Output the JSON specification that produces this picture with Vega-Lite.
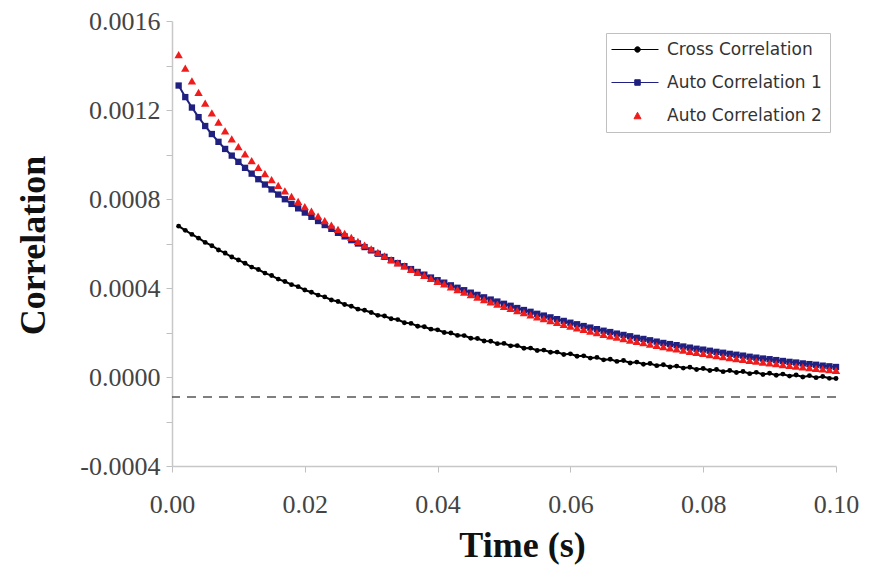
{
"$schema": "https://vega.github.io/schema/vega-lite/v6.json",
"width": 664, "height": 445, "autosize": "none",
"padding": {"left": 172, "top": 21, "right": 37, "bottom": 100},
"background": "white",
"config": {"view": {"stroke": null}},
"datasets": {
"ref": [{"baseline": -0.00009}],
"series": [
{"t":0.001,"c":0.000678,"a1":0.001310,"a2":0.001449},
{"t":0.002,"c":0.000659,"a1":0.001258,"a2":0.001388},
{"t":0.003,"c":0.000641,"a1":0.001211,"a2":0.001331},
{"t":0.004,"c":0.000624,"a1":0.001168,"a2":0.001279},
{"t":0.005,"c":0.000605,"a1":0.001128,"a2":0.001231},
{"t":0.006,"c":0.000590,"a1":0.001092,"a2":0.001187},
{"t":0.007,"c":0.000571,"a1":0.001057,"a2":0.001145},
{"t":0.008,"c":0.000557,"a1":0.001025,"a2":0.001106},
{"t":0.009,"c":0.000539,"a1":0.000995,"a2":0.001070},
{"t":0.010,"c":0.000526,"a1":0.000967,"a2":0.001035},
{"t":0.011,"c":0.000511,"a1":0.000940,"a2":0.001003},
{"t":0.012,"c":0.000494,"a1":0.000914,"a2":0.000972},
{"t":0.013,"c":0.000483,"a1":0.000889,"a2":0.000942},
{"t":0.014,"c":0.000467,"a1":0.000865,"a2":0.000914},
{"t":0.015,"c":0.000456,"a1":0.000843,"a2":0.000887},
{"t":0.016,"c":0.000440,"a1":0.000820,"a2":0.000861},
{"t":0.017,"c":0.000429,"a1":0.000799,"a2":0.000836},
{"t":0.018,"c":0.000415,"a1":0.000778,"a2":0.000812},
{"t":0.019,"c":0.000406,"a1":0.000758,"a2":0.000789},
{"t":0.020,"c":0.000391,"a1":0.000739,"a2":0.000766},
{"t":0.021,"c":0.000381,"a1":0.000720,"a2":0.000745},
{"t":0.022,"c":0.000368,"a1":0.000701,"a2":0.000723},
{"t":0.023,"c":0.000360,"a1":0.000683,"a2":0.000703},
{"t":0.024,"c":0.000346,"a1":0.000666,"a2":0.000683},
{"t":0.025,"c":0.000339,"a1":0.000648,"a2":0.000664},
{"t":0.026,"c":0.000326,"a1":0.000632,"a2":0.000645},
{"t":0.027,"c":0.000318,"a1":0.000615,"a2":0.000627},
{"t":0.028,"c":0.000305,"a1":0.000600,"a2":0.000610},
{"t":0.029,"c":0.000300,"a1":0.000584,"a2":0.000593},
{"t":0.030,"c":0.000290,"a1":0.000569,"a2":0.000576},
{"t":0.031,"c":0.000277,"a1":0.000554,"a2":0.000560},
{"t":0.032,"c":0.000274,"a1":0.000540,"a2":0.000544},
{"t":0.033,"c":0.000262,"a1":0.000525,"a2":0.000528},
{"t":0.034,"c":0.000258,"a1":0.000512,"a2":0.000513},
{"t":0.035,"c":0.000244,"a1":0.000498,"a2":0.000499},
{"t":0.036,"c":0.000241,"a1":0.000485,"a2":0.000484},
{"t":0.037,"c":0.000228,"a1":0.000472,"a2":0.000470},
{"t":0.038,"c":0.000226,"a1":0.000460,"a2":0.000457},
{"t":0.039,"c":0.000215,"a1":0.000447,"a2":0.000443},
{"t":0.040,"c":0.000212,"a1":0.000435,"a2":0.000430},
{"t":0.041,"c":0.000200,"a1":0.000424,"a2":0.000418},
{"t":0.042,"c":0.000198,"a1":0.000412,"a2":0.000405},
{"t":0.043,"c":0.000187,"a1":0.000401,"a2":0.000393},
{"t":0.044,"c":0.000186,"a1":0.000390,"a2":0.000382},
{"t":0.045,"c":0.000174,"a1":0.000379,"a2":0.000370},
{"t":0.046,"c":0.000173,"a1":0.000369,"a2":0.000359},
{"t":0.047,"c":0.000162,"a1":0.000358,"a2":0.000348},
{"t":0.048,"c":0.000161,"a1":0.000348,"a2":0.000338},
{"t":0.049,"c":0.000150,"a1":0.000339,"a2":0.000327},
{"t":0.050,"c":0.000151,"a1":0.000329,"a2":0.000317},
{"t":0.051,"c":0.000140,"a1":0.000320,"a2":0.000308},
{"t":0.052,"c":0.000141,"a1":0.000310,"a2":0.000298},
{"t":0.053,"c":0.000129,"a1":0.000301,"a2":0.000289},
{"t":0.054,"c":0.000130,"a1":0.000293,"a2":0.000279},
{"t":0.055,"c":0.000119,"a1":0.000284,"a2":0.000270},
{"t":0.056,"c":0.000121,"a1":0.000276,"a2":0.000262},
{"t":0.057,"c":0.000111,"a1":0.000268,"a2":0.000253},
{"t":0.058,"c":0.000112,"a1":0.000260,"a2":0.000245},
{"t":0.059,"c":0.000101,"a1":0.000252,"a2":0.000237},
{"t":0.060,"c":0.000104,"a1":0.000244,"a2":0.000229},
{"t":0.061,"c":0.000093,"a1":0.000237,"a2":0.000221},
{"t":0.062,"c":0.000095,"a1":0.000229,"a2":0.000214},
{"t":0.063,"c":0.000085,"a1":0.000222,"a2":0.000206},
{"t":0.064,"c":0.000088,"a1":0.000215,"a2":0.000199},
{"t":0.065,"c":0.000077,"a1":0.000208,"a2":0.000192},
{"t":0.066,"c":0.000080,"a1":0.000202,"a2":0.000185},
{"t":0.067,"c":0.000070,"a1":0.000195,"a2":0.000179},
{"t":0.068,"c":0.000074,"a1":0.000189,"a2":0.000172},
{"t":0.069,"c":0.000063,"a1":0.000183,"a2":0.000166},
{"t":0.070,"c":0.000067,"a1":0.000176,"a2":0.000160},
{"t":0.071,"c":0.000057,"a1":0.000171,"a2":0.000154},
{"t":0.072,"c":0.000061,"a1":0.000165,"a2":0.000148},
{"t":0.073,"c":0.000051,"a1":0.000159,"a2":0.000142},
{"t":0.074,"c":0.000055,"a1":0.000153,"a2":0.000137},
{"t":0.075,"c":0.000045,"a1":0.000148,"a2":0.000131},
{"t":0.076,"c":0.000049,"a1":0.000143,"a2":0.000126},
{"t":0.077,"c":0.000040,"a1":0.000137,"a2":0.000121},
{"t":0.078,"c":0.000044,"a1":0.000132,"a2":0.000115},
{"t":0.079,"c":0.000034,"a1":0.000127,"a2":0.000111},
{"t":0.080,"c":0.000038,"a1":0.000123,"a2":0.000106},
{"t":0.081,"c":0.000029,"a1":0.000118,"a2":0.000101},
{"t":0.082,"c":0.000034,"a1":0.000113,"a2":0.000096},
{"t":0.083,"c":0.000024,"a1":0.000109,"a2":0.000092},
{"t":0.084,"c":0.000029,"a1":0.000104,"a2":0.000087},
{"t":0.085,"c":0.000020,"a1":0.000100,"a2":0.000083},
{"t":0.086,"c":0.000025,"a1":0.000096,"a2":0.000079},
{"t":0.087,"c":0.000015,"a1":0.000091,"a2":0.000075},
{"t":0.088,"c":0.000021,"a1":0.000087,"a2":0.000071},
{"t":0.089,"c":0.000011,"a1":0.000083,"a2":0.000067},
{"t":0.090,"c":0.000017,"a1":0.000080,"a2":0.000063},
{"t":0.091,"c":0.000008,"a1":0.000076,"a2":0.000060},
{"t":0.092,"c":0.000013,"a1":0.000072,"a2":0.000056},
{"t":0.093,"c":0.000004,"a1":0.000068,"a2":0.000052},
{"t":0.094,"c":0.000009,"a1":0.000065,"a2":0.000049},
{"t":0.095,"c":0.000000,"a1":0.000061,"a2":0.000046},
{"t":0.096,"c":0.000006,"a1":0.000058,"a2":0.000042},
{"t":0.097,"c":-0.000003,"a1":0.000055,"a2":0.000039},
{"t":0.098,"c":0.000002,"a1":0.000051,"a2":0.000036},
{"t":0.099,"c":-0.000006,"a1":0.000048,"a2":0.000033},
{"t":0.100,"c":-0.000007,"a1":0.000045,"a2":0.000030}
]
},
"layer": [
{
"data": {"name": "ref"},
"mark": {"type": "rule", "color": "#555555", "strokeWidth": 1.5, "strokeDash": [9, 7]},
"encoding": {
"y": {"field": "baseline", "type": "quantitative", "title": "Correlation"}
}
},
{
"data": {"name": "series"},
"transform": [{"fold": ["c", "a1"], "as": ["key", "value"]}],
"mark": {"type": "line", "strokeWidth": 2},
"encoding": {
"x": {"field": "t", "type": "quantitative", "title": "Time (s)",
"scale": {"domain": [0, 0.1], "nice": false, "zero": false},
"axis": {"values": [0, 0.02, 0.04, 0.06, 0.08, 0.1], "format": ".2f", "grid": false,
"labelFont": "Liberation Serif", "labelFontSize": 26, "labelColor": "#444444", "labelPadding": 19, "labelFlush": false,
"tickSize": 6, "tickColor": "#c0c0c0", "domainColor": "#c8c8c8", "domainWidth": 1.5,
"titleFont": "Liberation Serif", "titleFontSize": 36, "titleFontWeight": "bold", "titleColor": "#111111",
"titleX": 350, "titleY": 90, "titleBaseline": "alphabetic", "titleAlign": "center"}},
"y": {"field": "value", "type": "quantitative", "title": "Correlation",
"scale": {"domain": [-0.0004, 0.0016], "nice": false, "zero": false},
"axis": {"values": [-0.0004, -0.0002, 0, 0.0002, 0.0004, 0.0006, 0.0008, 0.001, 0.0012, 0.0014, 0.0016],
"labelExpr": "abs(round(datum.value * 10000)) % 4 == 0 ? replace(format(datum.value, '.4f'), '\u2212', '-') : ''",
"grid": false, "labelFont": "Liberation Serif", "labelFontSize": 26, "labelColor": "#444444", "labelPadding": 6,
"tickSize": 6, "tickColor": "#c0c0c0", "domainColor": "#c8c8c8", "domainWidth": 1.5,
"titleFont": "Liberation Serif", "titleFontSize": 36, "titleFontWeight": "bold", "titleColor": "#111111",
"titleAngle": -90, "titleX": -128, "titleY": 224, "titleBaseline": "alphabetic", "titleAlign": "center"}},
"detail": {"field": "key"},
"color": {"condition": {"test": "datum.key == 'c'", "value": "#000000"}, "value": "#202080"}
}
},
{
"data": {"name": "series"},
"transform": [{"fold": ["c"], "as": ["key", "value"]}],
"mark": {"type": "point", "filled": true, "opacity": 1, "shape": "circle", "size": 24, "color": "#000000"},
"encoding": {
"x": {"field": "t", "type": "quantitative", "title": "Time (s)"},
"y": {"field": "value", "type": "quantitative", "title": "Correlation"}
}
},
{
"data": {"name": "series"},
"transform": [{"fold": ["a1"], "as": ["key", "value"]}],
"mark": {"type": "point", "filled": true, "opacity": 1, "shape": "square", "size": 40, "color": "#202080"},
"encoding": {
"x": {"field": "t", "type": "quantitative", "title": "Time (s)"},
"y": {"field": "value", "type": "quantitative", "title": "Correlation"}
}
},
{
"data": {"name": "series"},
"transform": [{"fold": ["a2"], "as": ["key", "value"]}],
"mark": {"type": "point", "filled": true, "opacity": 1, "shape": "triangle-up", "size": 70, "color": "#f01c1c"},
"encoding": {
"x": {"field": "t", "type": "quantitative", "title": "Time (s)"},
"y": {"field": "value", "type": "quantitative", "title": "Correlation"}
}
},
{
"data": {"name": "series"},
"transform": [{"fold": ["c", "a1", "a2"], "as": ["key", "value"]}, {"filter": "datum.t == 0.001"}],
"mark": {"type": "point", "opacity": 0, "strokeWidth": 1},
"encoding": {
"x": {"field": "t", "type": "quantitative", "title": "Time (s)"},
"y": {"field": "value", "type": "quantitative", "title": "Correlation"},
"fill": {"field": "key", "type": "nominal",
"scale": {"domain": ["c", "a1", "a2"], "range": ["#000000", "#202080", "#f01c1c"]},
"legend": {"title": null, "orient": "none", "legendX": 434, "legendY": 12,
"labelExpr": "datum.value == 'c' ? 'Cross Correlation' : datum.value == 'a1' ? 'Auto Correlation 1' : 'Auto Correlation 2'",
"labelFont": "DejaVu Sans", "labelFontSize": 17, "labelColor": "#333333", "labelOffset": 36,
"symbolSize": 100, "symbolOpacity": 1, "symbolStrokeWidth": 1, "rowPadding": 15, "padding": 8, "strokeColor": "#c0c0c0", "fillColor": "#ffffff"}},
"stroke": {"field": "key", "type": "nominal",
"scale": {"domain": ["c", "a1", "a2"], "range": ["#000000", "#202080", "#f01c1c"]},
"legend": {"title": null, "orient": "none", "legendX": 434, "legendY": 12,
"labelExpr": "datum.value == 'c' ? 'Cross Correlation' : datum.value == 'a1' ? 'Auto Correlation 1' : 'Auto Correlation 2'",
"labelFont": "DejaVu Sans", "labelFontSize": 17, "labelColor": "#333333", "labelOffset": 36,
"symbolSize": 100, "symbolOpacity": 1, "symbolStrokeWidth": 1, "rowPadding": 15, "padding": 8, "strokeColor": "#c0c0c0", "fillColor": "#ffffff"}},
"shape": {"field": "key", "type": "nominal",
"scale": {"domain": ["c", "a1", "a2"], "range": ["M-2.2,0H7.2M2.45,0A0.55,0.55 0 1,1 3.55,0A0.55,0.55 0 1,1 2.45,0Z", "M-2.2,0H7.2M2.45,-0.55H3.55V0.55H2.45Z", "M3.0,-0.65L3.7,0.65H2.3Z"]},
"legend": {"title": null, "orient": "none", "legendX": 434, "legendY": 12,
"labelExpr": "datum.value == 'c' ? 'Cross Correlation' : datum.value == 'a1' ? 'Auto Correlation 1' : 'Auto Correlation 2'",
"labelFont": "DejaVu Sans", "labelFontSize": 17, "labelColor": "#333333", "labelOffset": 36,
"symbolSize": 100, "symbolOpacity": 1, "symbolStrokeWidth": 1, "rowPadding": 15, "padding": 8, "strokeColor": "#c0c0c0", "fillColor": "#ffffff"}}
}
}
]
}
